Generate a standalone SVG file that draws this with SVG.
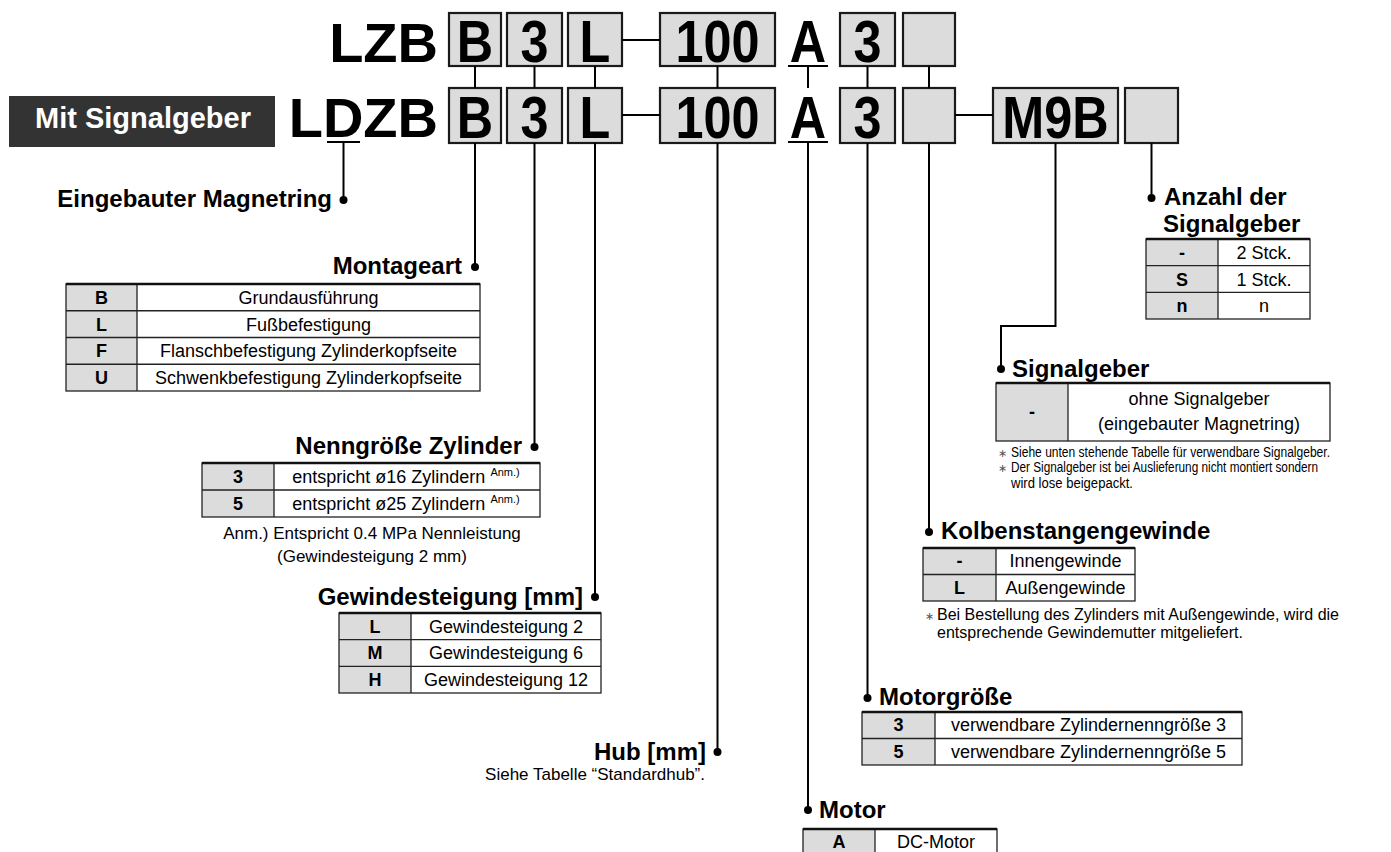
<svg xmlns="http://www.w3.org/2000/svg" width="1391" height="852" viewBox="0 0 1391 852">
<style>
text{font-family:"Liberation Sans",Arial,Helvetica,sans-serif;fill:#000}
.big{font-size:56px;font-weight:bold}
.bx{font-size:60px;font-weight:bold;text-anchor:middle}
.box{fill:#dcdcdc;stroke:#1a1a1a;stroke-width:2.2}
.h{font-size:24px;font-weight:bold}
.t{font-size:18px}
.tb{font-size:18px;font-weight:bold}
.n{font-size:17px}
.s{font-size:14px}
.c1{fill:#dcdcdc}
.grid{fill:none;stroke:#222;stroke-width:1.3}
.top{stroke:#111;stroke-width:2.6}
.ln{stroke:#000;stroke-width:2;fill:none}
.dot{fill:#000}
.ast{font-size:11px;fill:#555}
</style>

<g id="badge">
<rect x="9" y="96" width="266" height="51" fill="#333"/>
<text x="143" y="128" text-anchor="middle" style="font-size:29px;font-weight:bold;fill:#fff">Mit Signalgeber</text>
</g>

<g id="code-top">
<text class="big" x="438" y="62" text-anchor="end">LZB</text>
<rect class="box" x="449" y="13" width="52" height="53"/><text class="bx" transform="translate(475 62) scale(0.84 1)">B</text>
<rect class="box" x="507" y="13" width="55" height="53"/><text class="bx" transform="translate(534.5 62) scale(0.84 1)">3</text>
<rect class="box" x="568" y="13" width="54" height="53"/><text class="bx" transform="translate(595 62) scale(0.84 1)">L</text>
<rect class="box" x="660" y="13" width="115" height="53"/><text class="bx" transform="translate(717.5 62) scale(0.84 1)">100</text>
<text class="bx" transform="translate(808 62) scale(0.84 1)">A</text>
<rect class="box" x="840" y="13" width="55" height="53"/><text class="bx" transform="translate(867.5 62) scale(0.84 1)">3</text>
<rect class="box" x="903" y="13" width="52" height="53"/>
</g>

<g id="code-bottom">
<text class="big" x="438" y="137" text-anchor="end">LDZB</text>
<rect class="box" x="449" y="88" width="52" height="55"/><text class="bx" transform="translate(475 138) scale(0.84 1)">B</text>
<rect class="box" x="507" y="88" width="55" height="55"/><text class="bx" transform="translate(534.5 138) scale(0.84 1)">3</text>
<rect class="box" x="568" y="88" width="54" height="55"/><text class="bx" transform="translate(595 138) scale(0.84 1)">L</text>
<rect class="box" x="660" y="88" width="115" height="55"/><text class="bx" transform="translate(717.5 138) scale(0.84 1)">100</text>
<text class="bx" transform="translate(808 138) scale(0.84 1)">A</text>
<rect class="box" x="840" y="88" width="55" height="55"/><text class="bx" transform="translate(867.5 138) scale(0.84 1)">3</text>
<rect class="box" x="903" y="88" width="52" height="55"/>
<rect class="box" x="993" y="88" width="125" height="55"/><text class="bx" transform="translate(1055.5 138) scale(0.84 1)">M9B</text>
<rect class="box" x="1125" y="88" width="53" height="55"/>
</g>

<g id="connectors">
<line class="ln" x1="622" y1="40" x2="660" y2="40"/>
<line class="ln" x1="622" y1="115" x2="660" y2="115"/>
<line class="ln" x1="955" y1="115" x2="993" y2="115"/>
<line class="ln" x1="788" y1="66" x2="828" y2="66"/>
<line class="ln" x1="788" y1="142" x2="828" y2="142"/>
<line class="ln" x1="327" y1="142" x2="360" y2="142"/>
<line class="ln" x1="475" y1="66" x2="475" y2="88"/>
<line class="ln" x1="534.5" y1="66" x2="534.5" y2="88"/>
<line class="ln" x1="595" y1="66" x2="595" y2="88"/>
<line class="ln" x1="717.5" y1="66" x2="717.5" y2="88"/>
<line class="ln" x1="808" y1="66" x2="808" y2="88"/>
<line class="ln" x1="867.5" y1="66" x2="867.5" y2="88"/>
<line class="ln" x1="929" y1="66" x2="929" y2="88"/>
<line class="ln" x1="343.5" y1="142" x2="343.5" y2="200"/>
<line class="ln" x1="475" y1="143" x2="475" y2="267"/>
<line class="ln" x1="534.5" y1="143" x2="534.5" y2="447"/>
<line class="ln" x1="595" y1="143" x2="595" y2="597"/>
<line class="ln" x1="717.5" y1="143" x2="717.5" y2="752"/>
<line class="ln" x1="808" y1="142" x2="808" y2="810"/>
<line class="ln" x1="867.5" y1="143" x2="867.5" y2="698"/>
<line class="ln" x1="929" y1="143" x2="929" y2="532"/>
<polyline class="ln" points="1055.5,143 1055.5,326 1001,326 1001,369"/>
<line class="ln" x1="1151.5" y1="143" x2="1151.5" y2="198"/>
<circle class="dot" cx="343.5" cy="200" r="4"/>
<circle class="dot" cx="475" cy="267" r="4"/>
<circle class="dot" cx="534.5" cy="447" r="4"/>
<circle class="dot" cx="595" cy="597" r="4"/>
<circle class="dot" cx="717.5" cy="752" r="4"/>
<circle class="dot" cx="808" cy="810" r="4"/>
<circle class="dot" cx="867.5" cy="698" r="4"/>
<circle class="dot" cx="929" cy="532" r="4"/>
<circle class="dot" cx="1001" cy="369" r="4"/>
<circle class="dot" cx="1151.5" cy="198" r="4"/>
</g>

<g id="magnetring">
<text class="h" x="332" y="207" text-anchor="end">Eingebauter Magnetring</text>
</g>

<g id="montageart">
<text class="h" x="462" y="274" text-anchor="end">Montageart</text>
<rect class="c1" x="66" y="284" width="71" height="107"/>
<rect class="grid" x="66" y="284" width="414" height="107"/>
<path class="grid" d="M137,284V391M66,310.75H480M66,337.5H480M66,364.25H480"/>
<line class="top" x1="66" y1="284" x2="480" y2="284"/>
<text class="tb" x="101.5" y="304" text-anchor="middle">B</text>
<text class="tb" x="101.5" y="331" text-anchor="middle">L</text>
<text class="tb" x="101.5" y="357" text-anchor="middle">F</text>
<text class="tb" x="101.5" y="384" text-anchor="middle">U</text>
<text class="t" x="308.5" y="304" text-anchor="middle">Grundausführung</text>
<text class="t" x="308.5" y="331" text-anchor="middle">Fußbefestigung</text>
<text class="t" x="308.5" y="357" text-anchor="middle">Flanschbefestigung Zylinderkopfseite</text>
<text class="t" x="308.5" y="384" text-anchor="middle">Schwenkbefestigung Zylinderkopfseite</text>
</g>

<g id="nenngroesse">
<text class="h" x="522" y="454" text-anchor="end">Nenngröße Zylinder</text>
<rect class="c1" x="202" y="463" width="72" height="54"/>
<rect class="grid" x="202" y="463" width="338" height="54"/>
<path class="grid" d="M274,463V517M202,490H540"/>
<line class="top" x1="202" y1="463" x2="540" y2="463"/>
<text class="tb" x="238" y="483" text-anchor="middle">3</text>
<text class="tb" x="238" y="510" text-anchor="middle">5</text>
<text class="t" x="406" y="483" text-anchor="middle">entspricht ø16 Zylindern <tspan style="font-size:11px" dy="-7">Anm.)</tspan></text>
<text class="t" x="406" y="510" text-anchor="middle">entspricht ø25 Zylindern <tspan style="font-size:11px" dy="-7">Anm.)</tspan></text>
<text class="n" x="372" y="539" text-anchor="middle">Anm.) Entspricht 0.4 MPa Nennleistung</text>
<text class="n" x="372" y="562" text-anchor="middle">(Gewindesteigung 2 mm)</text>
</g>

<g id="gewindesteigung">
<text class="h" x="583" y="605" text-anchor="end">Gewindesteigung [mm]</text>
<rect class="c1" x="339" y="613" width="72" height="80"/>
<rect class="grid" x="339" y="613" width="262" height="80"/>
<path class="grid" d="M411,613V693M339,639.7H601M339,666.3H601"/>
<line class="top" x1="339" y1="613" x2="601" y2="613"/>
<text class="tb" x="375" y="633" text-anchor="middle">L</text>
<text class="tb" x="375" y="659" text-anchor="middle">M</text>
<text class="tb" x="375" y="686" text-anchor="middle">H</text>
<text class="t" x="506" y="633" text-anchor="middle">Gewindesteigung 2</text>
<text class="t" x="506" y="659" text-anchor="middle">Gewindesteigung 6</text>
<text class="t" x="506" y="686" text-anchor="middle">Gewindesteigung 12</text>
</g>

<g id="hub">
<text class="h" x="706" y="760" text-anchor="end">Hub [mm]</text>
<text class="n" x="705" y="780" text-anchor="end">Siehe Tabelle “Standardhub”.</text>
</g>

<g id="motor">
<text class="h" x="819" y="818">Motor</text>
<rect class="c1" x="803" y="829" width="72" height="30"/>
<rect class="grid" x="803" y="829" width="194" height="30"/>
<path class="grid" d="M875,829V859"/>
<line class="top" x1="803" y1="829" x2="997" y2="829"/>
<text class="tb" x="839" y="848" text-anchor="middle">A</text>
<text class="t" x="936" y="848" text-anchor="middle">DC-Motor</text>
</g>

<g id="motorgroesse">
<text class="h" x="879" y="705">Motorgröße</text>
<rect class="c1" x="862" y="712" width="73" height="53"/>
<rect class="grid" x="862" y="712" width="380" height="53"/>
<path class="grid" d="M935,712V765M862,738.5H1242"/>
<line class="top" x1="862" y1="712" x2="1242" y2="712"/>
<text class="tb" x="898.5" y="731" text-anchor="middle">3</text>
<text class="tb" x="898.5" y="758" text-anchor="middle">5</text>
<text class="t" x="1088.5" y="731" text-anchor="middle">verwendbare Zylindernenngröße 3</text>
<text class="t" x="1088.5" y="758" text-anchor="middle">verwendbare Zylindernenngröße 5</text>
</g>

<g id="kolbenstange">
<text class="h" x="941" y="539">Kolbenstangengewinde</text>
<rect class="c1" x="923" y="548" width="73" height="53"/>
<rect class="grid" x="923" y="548" width="212" height="53"/>
<path class="grid" d="M996,548V601M923,574.5H1135"/>
<line class="top" x1="923" y1="548" x2="1135" y2="548"/>
<text class="tb" x="959.5" y="567" text-anchor="middle">-</text>
<text class="tb" x="959.5" y="594" text-anchor="middle">L</text>
<text class="t" x="1065.5" y="567" text-anchor="middle">Innengewinde</text>
<text class="t" x="1065.5" y="594" text-anchor="middle">Außengewinde</text>
<text class="ast" x="925" y="620">∗</text>
<text class="n" x="937" y="620" style="font-size:16px">Bei Bestellung des Zylinders mit Außengewinde, wird die</text>
<text class="n" x="937" y="638" style="font-size:16px">entsprechende Gewindemutter mitgeliefert.</text>
</g>

<g id="signalgeber">
<text class="h" x="1012" y="377">Signalgeber</text>
<rect class="c1" x="996" y="383" width="72" height="58"/>
<rect class="grid" x="996" y="383" width="334" height="58"/>
<path class="grid" d="M1068,383V441"/>
<line class="top" x1="996" y1="383" x2="1330" y2="383"/>
<text class="tb" x="1032" y="418" text-anchor="middle">-</text>
<text class="t" x="1199" y="405" text-anchor="middle">ohne Signalgeber</text>
<text class="t" x="1199" y="430" text-anchor="middle">(eingebauter Magnetring)</text>
<text class="ast" x="998" y="457">∗</text>
<text class="s" x="1011" y="457" textLength="319" lengthAdjust="spacingAndGlyphs">Siehe unten stehende Tabelle für verwendbare Signalgeber.</text>
<text class="ast" x="998" y="472">∗</text>
<text class="s" x="1011" y="472" textLength="307" lengthAdjust="spacingAndGlyphs">Der Signalgeber ist bei Auslieferung nicht montiert sondern</text>
<text class="s" x="1011" y="488" textLength="122" lengthAdjust="spacingAndGlyphs">wird lose beigepackt.</text>
</g>

<g id="anzahl">
<text class="h" x="1164" y="205">Anzahl der</text>
<text class="h" x="1163" y="232">Signalgeber</text>
<rect class="c1" x="1146" y="239" width="72" height="80"/>
<rect class="grid" x="1146" y="239" width="164" height="80"/>
<path class="grid" d="M1218,239V319M1146,265.7H1310M1146,292.3H1310"/>
<line class="top" x1="1146" y1="239" x2="1310" y2="239"/>
<text class="tb" x="1182" y="259" text-anchor="middle">-</text>
<text class="tb" x="1182" y="286" text-anchor="middle">S</text>
<text class="tb" x="1182" y="312" text-anchor="middle">n</text>
<text class="t" x="1264" y="259" text-anchor="middle">2 Stck.</text>
<text class="t" x="1264" y="286" text-anchor="middle">1 Stck.</text>
<text class="t" x="1264" y="312" text-anchor="middle">n</text>
</g>
</svg>
